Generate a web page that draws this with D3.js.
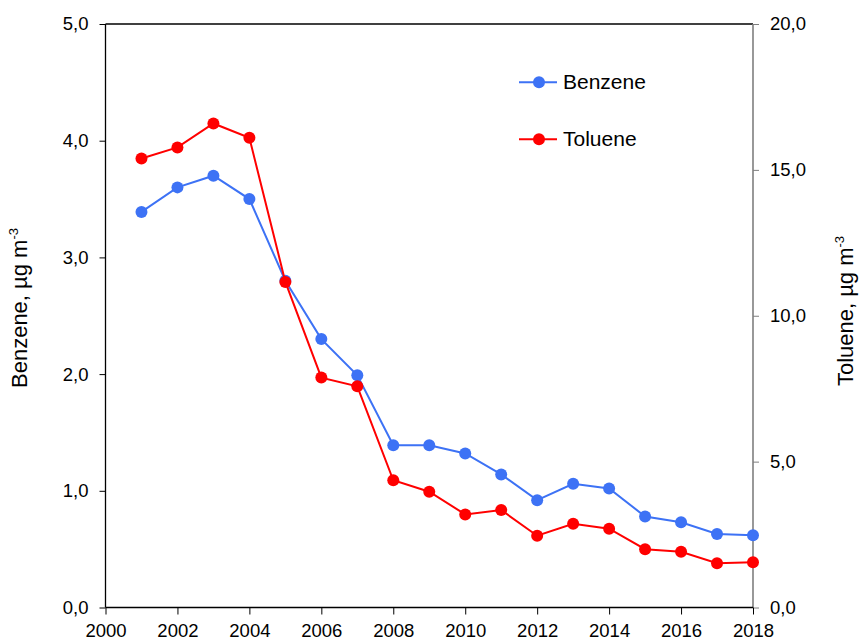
<!DOCTYPE html>
<html>
<head>
<meta charset="utf-8">
<script src="https://cdn.jsdelivr.net/npm/d3@7"></script>
<style>
  body { margin: 0; background: #fff; }
  svg text { font-family: "Liberation Sans", Arial, sans-serif; fill: #000; }
</style>
</head>
<body>
<div id="chart"></div>
<script>
// data
var years = [2001, 2002, 2003, 2004, 2005, 2006, 2007, 2008, 2009, 2010, 2011, 2012, 2013, 2014, 2015, 2016, 2017, 2018];
var benzene = [3.39, 3.60, 3.70, 3.50, 2.80, 2.30, 1.99, 1.39, 1.39, 1.32, 1.14, 0.92, 1.06, 1.02, 0.78, 0.73, 0.63, 0.62];
var toluene = [15.39, 15.77, 16.59, 16.10, 11.16, 7.88, 7.58, 4.36, 3.97, 3.19, 3.34, 2.46, 2.87, 2.70, 2.00, 1.91, 1.52, 1.55];
var xTicks = [2000, 2002, 2004, 2006, 2008, 2010, 2012, 2014, 2016, 2018];
var leftTicks = [0, 1, 2, 3, 4, 5];
var rightTicks = [0, 5, 10, 15, 20];
var seriesNames = ["Benzene", "Toluene"];

var width = 860, height = 639;
var plotL = 105.5, plotR = 753, plotT = 24, plotB = 607.5;
var blue = "#3D72F5", red = "#FF0000";
var tickFont = 18.5;

var svg = d3.select("#chart").append("svg")
  .attr("width", width).attr("height", height);

var x = d3.scaleLinear().domain([2000, 2018]).range([plotL, plotR]);
var yL = d3.scaleLinear().domain([0, 5]).range([plotB, plotT]);
var yR = d3.scaleLinear().domain([0, 20]).range([plotB, plotT]);

var comma = function(d) { return d3.format(".1f")(d).replace(".", ","); };

// top border of plot area
svg.append("line")
  .attr("x1", plotL).attr("x2", plotR)
  .attr("y1", plotT).attr("y2", plotT)
  .attr("stroke", "#000").attr("stroke-width", 1.3);

// left axis
var gL = svg.append("g").attr("transform", "translate(" + plotL + ",0)")
  .call(d3.axisLeft(yL).tickValues(leftTicks).tickFormat(comma).tickSize(6).tickPadding(11));
// right axis
var gR = svg.append("g").attr("transform", "translate(" + plotR + ",0)")
  .call(d3.axisRight(yR).tickValues(rightTicks).tickFormat(comma).tickSize(6).tickPadding(11));
// bottom axis
var gB = svg.append("g").attr("transform", "translate(0," + plotB + ")")
  .call(d3.axisBottom(x).tickValues(xTicks).tickFormat(d3.format("d")).tickSize(7).tickPadding(9));

[gL, gB].forEach(function(g) {
  g.select(".domain").attr("stroke", "#000").attr("stroke-width", 1.3);
  g.selectAll(".tick line").attr("stroke", "#000");
});
gR.select(".domain").attr("stroke", "#7f7f7f").attr("stroke-width", 1.6);
gR.selectAll(".tick line").attr("stroke", "#7f7f7f");
[gL, gR, gB].forEach(function(g) {
  g.selectAll(".tick text").attr("font-size", tickFont).attr("fill", "#000")
    .attr("font-family", "'Liberation Sans', Arial, sans-serif");
});
// domain lines without outer end caps
gL.select(".domain").attr("d", "M0," + plotB + "V" + plotT);
gR.select(".domain").attr("d", "M0," + plotB + "V" + plotT);
gB.select(".domain").attr("d", "M" + plotL + ",0H" + plotR);

// axis titles
var tL = svg.append("text")
  .attr("transform", "translate(27,308) rotate(-90)")
  .attr("text-anchor", "middle").attr("font-size", 22);
tL.append("tspan").text("Benzene, µg m");
tL.append("tspan").attr("font-size", 13).attr("dy", -9).text("-3");

var tR = svg.append("text")
  .attr("transform", "translate(852.5,311) rotate(-90)")
  .attr("text-anchor", "middle").attr("font-size", 22);
tR.append("tspan").text("Toluene, µg m");
tR.append("tspan").attr("font-size", 13).attr("dy", -9).text("-3");

// series
var series = [
  { name: seriesNames[0], values: benzene, y: yL, color: blue },
  { name: seriesNames[1], values: toluene, y: yR, color: red }
];

series.forEach(function(s) {
  var pts = years.map(function(yr, i) { return [yr, s.values[i]]; });
  var line = d3.line().x(function(d) { return x(d[0]); }).y(function(d) { return s.y(d[1]); });
  svg.append("path").datum(pts)
    .attr("d", line).attr("fill", "none")
    .attr("stroke", s.color).attr("stroke-width", 2);
  svg.selectAll(null).data(pts).enter().append("circle")
    .attr("cx", function(d) { return x(d[0]); })
    .attr("cy", function(d) { return s.y(d[1]); })
    .attr("r", 6).attr("fill", s.color);
});

// legend
var legY = [82.3, 139.3];
series.forEach(function(s, i) {
  var g = svg.append("g").attr("transform", "translate(519," + legY[i] + ")");
  g.append("line").attr("x1", 0).attr("x2", 38).attr("stroke", s.color).attr("stroke-width", 2);
  g.append("circle").attr("cx", 20).attr("r", 6).attr("fill", s.color);
  g.append("text").attr("x", 44).attr("y", 7).attr("font-size", 21).text(s.name);
});
</script>
</body>
</html>
